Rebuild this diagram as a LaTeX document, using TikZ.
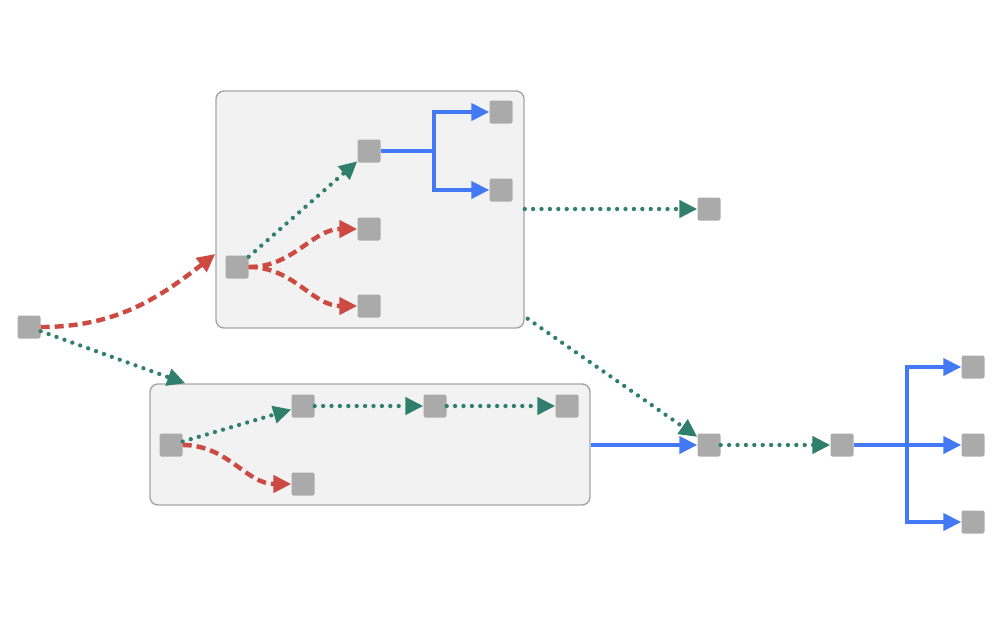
\documentclass[tikz,border=0pt]{standalone}
\usetikzlibrary{arrows.meta}
\definecolor{cred}{RGB}{205,74,66}
\definecolor{cgreen}{RGB}{47,127,108}
\definecolor{cblue}{RGB}{68,121,245}
\definecolor{cgray}{RGB}{170,170,170}
\definecolor{cfill}{RGB}{242,242,242}
\definecolor{cborder}{RGB}{166,166,166}
\tikzset{
  nd/.style={rectangle, rounded corners=2pt, fill=cgray, minimum size=23pt, inner sep=0pt},
  cluster/.style={rectangle, rounded corners=8pt, fill=cfill, draw=cborder, line width=1.4pt, inner sep=0pt},
  redline/.style={draw=cred, line width=4.4pt, dash pattern=on 9pt off 5pt, -{Triangle[length=18pt,width=17pt,fill=cred]}},
  greenline/.style={draw=cgreen, line width=4.3pt, line cap=round, dash pattern=on 0pt off 8.4pt, -{Triangle[length=18pt,width=17pt,fill=cgreen]}},
  blueline/.style={draw=cblue, line width=4pt, -{Triangle[length=18pt,width=17pt,fill=cblue]}},
}
\begin{document}
\begin{tikzpicture}[x=1pt,y=1pt]
\useasboundingbox (0,0) rectangle (1008,-630);
% clusters
\node[cluster, minimum width=308pt, minimum height=237pt] (topc) at (370,-209.5) {};
\node[cluster, minimum width=440pt, minimum height=121pt] (botc) at (370,-444.5) {};
% nodes
\node[nd] (L) at (29,-327) {};
\node[nd] (A) at (237,-267) {};
\node[nd] (B) at (369,-151) {};
\node[nd] (C) at (369,-229) {};
\node[nd] (D) at (369,-306) {};
\node[nd] (E) at (501,-112) {};
\node[nd] (F) at (501,-190) {};
\node[nd] (G) at (171,-445) {};
\node[nd] (H) at (303,-406) {};
\node[nd] (I) at (435,-406) {};
\node[nd] (J) at (567,-406) {};
\node[nd] (K) at (303,-484) {};
\node[nd] (M) at (709,-209) {};
\node[nd] (N) at (709,-445) {};
\node[nd] (O) at (842,-445) {};
\node[nd] (P) at (973,-367) {};
\node[nd] (Q) at (973,-445) {};
\node[nd] (R) at (973,-522) {};
\coordinate (b1) at (434,-151);
\coordinate (o1) at (907,-445);
% edges
\draw[redline] (L.east) to[out=0,in=218] ([yshift=-44.5pt]topc.west);
\draw[greenline] (L) -- ([xshift=36pt]botc.north west);
\draw[greenline] (A) -- (B);
\draw[redline] (A.east) to[out=0,in=180] (C.west);
\draw[redline] (A.east) to[out=0,in=180] (D.west);
\draw[blueline] (B.east) -- (b1) |- (E.west);
\draw[blueline] (b1) |- (F.west);
\draw[greenline] (topc.east |- M) -- (M);
\draw[greenline] ([xshift=3pt,yshift=10pt]topc.south east) -- (N);
\draw[blueline] (botc.east |- N) -- (N);
\draw[greenline] (G) -- (H);
\draw[redline] (G.east) to[out=0,in=180] (K.west);
\draw[greenline] (H) -- (I);
\draw[greenline] (I) -- (J);
\draw[greenline] (N) -- (O);
\draw[blueline] (O.east) -- (o1) |- (P.west);
\draw[blueline] (o1) -- (Q.west);
\draw[blueline] (o1) |- (R.west);
\end{tikzpicture}
\end{document}
